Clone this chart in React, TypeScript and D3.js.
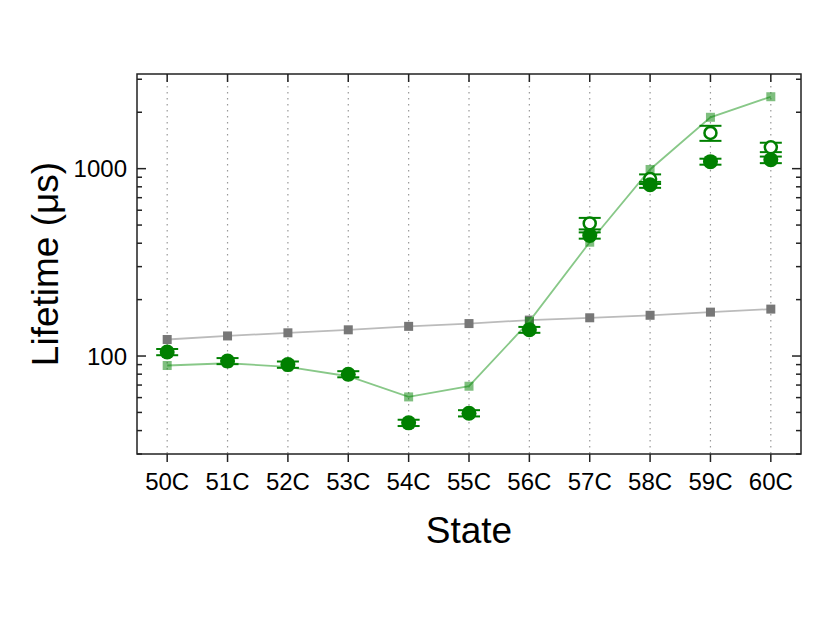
import React, { useEffect, useRef } from "react";
import * as d3 from "d3";

const states = ["50C", "51C", "52C", "53C", "54C", "55C", "56C", "57C", "58C", "59C", "60C"];
const grayValues = [122.5, 128, 133, 138, 144, 149, 155.5, 160, 165, 171.5, 178];
const greenSquareValues = [89, 91.5, 87.5, 78, 60.5, 69, 153, 405, 990, 1880, 2420];
const filledValues = [105, 94, 90, 80, 44, 49.5, 138, 440, 820, 1090, 1115];
const filledErrors = [4, 3.5, 3.5, 3, 1.7, 1.9, 5, 17, 30, 40, 45];
const openValues: (number | null)[] = [null, null, null, null, null, null, null, 510, 880, 1550, 1300];
const openErrors: (number | null)[] = [null, null, null, null, null, null, null, 36, 52, 143, 75];
const yTickLabels = [100, 1000];

function App() {
	const ref = useRef<SVGSVGElement>(null);

	useEffect(() => {
		const width = 830;
		const height = 636;
		const margin = { top: 74, right: 29, bottom: 182, left: 137 };
		const font = "'Liberation Sans', Arial, sans-serif";

		const svg = d3.select(ref.current);
		svg.selectAll("*").remove();

		const x = d3.scalePoint<string>().domain(states).range([margin.left, width - margin.right]).padding(0.5);
		const y = d3.scaleLog().domain([30, 3200]).range([height - margin.bottom, margin.top]);

		const left = margin.left;
		const right = width - margin.right;
		const top = margin.top;
		const bottom = height - margin.bottom;

		// dotted vertical grid
		svg.append("g")
			.selectAll("line")
			.data(states)
			.enter()
			.append("line")
			.attr("x1", (d) => x(d)!)
			.attr("x2", (d) => x(d)!)
			.attr("y1", top)
			.attr("y2", bottom)
			.attr("stroke", "#999")
			.attr("stroke-width", 1.2)
			.attr("stroke-dasharray", "1.5,4.5");

		// y ticks: majors and minors, inward on both sides
		const minorVals: number[] = [];
		for (let dec = 10; dec <= 1000; dec *= 10) {
			for (let k = 1; k <= 9; k++) {
				const v = dec * k;
				if (v >= 30 && v <= 3200) minorVals.push(v);
			}
		}
		const ticks = svg.append("g").attr("stroke", "#222").attr("stroke-width", 1.5);
		minorVals.forEach((v) => {
			const major = yTickLabels.includes(v);
			const len = major ? 9 : 5;
			ticks.append("line").attr("x1", left).attr("x2", left + len).attr("y1", y(v)).attr("y2", y(v));
			ticks.append("line").attr("x1", right).attr("x2", right - len).attr("y1", y(v)).attr("y2", y(v));
		});
		states.forEach((s) => {
			ticks.append("line").attr("x1", x(s)!).attr("x2", x(s)!).attr("y1", bottom).attr("y2", bottom + 8);
			ticks.append("line").attr("x1", x(s)!).attr("x2", x(s)!).attr("y1", top).attr("y2", top + 8);
		});

		svg.append("rect")
			.attr("x", left)
			.attr("y", top)
			.attr("width", right - left)
			.attr("height", bottom - top)
			.attr("fill", "none")
			.attr("stroke", "#222")
			.attr("stroke-width", 1.5);

		// tick labels
		svg.append("g")
			.selectAll("text")
			.data(states)
			.enter()
			.append("text")
			.attr("x", (d) => x(d)!)
			.attr("y", bottom + 36)
			.attr("text-anchor", "middle")
			.attr("font-family", font)
			.attr("font-size", 24)
			.text((d) => d);

		svg.append("g")
			.selectAll("text")
			.data(yTickLabels)
			.enter()
			.append("text")
			.attr("x", left - 10)
			.attr("y", (d) => y(d))
			.attr("dy", "0.36em")
			.attr("text-anchor", "end")
			.attr("font-family", font)
			.attr("font-size", 24)
			.text((d) => d);

		// axis titles
		svg.append("text")
			.attr("x", (left + right) / 2)
			.attr("y", 543)
			.attr("text-anchor", "middle")
			.attr("font-family", font)
			.attr("font-size", 37)
			.text("State");

		svg.append("text")
			.attr("transform", `translate(58,${(top + bottom) / 2}) rotate(-90)`)
			.attr("text-anchor", "middle")
			.attr("font-family", font)
			.attr("font-size", 37)
			.text("Lifetime (μs)");

		const line = d3.line<number>().x((_, i) => x(states[i])!).y((d) => y(d));

		// gray series
		svg.append("path").attr("d", line(grayValues)).attr("fill", "none").attr("stroke", "#bbb").attr("stroke-width", 1.8);
		svg.append("g")
			.selectAll("rect")
			.data(grayValues)
			.enter()
			.append("rect")
			.attr("x", (_, i) => x(states[i])! - 4.5)
			.attr("y", (d) => y(d) - 4.5)
			.attr("width", 9)
			.attr("height", 9)
			.attr("fill", "#777");

		// light green series
		svg.append("path").attr("d", line(greenSquareValues)).attr("fill", "none").attr("stroke", "#88c888").attr("stroke-width", 1.8);
		svg.append("g")
			.selectAll("rect")
			.data(greenSquareValues)
			.enter()
			.append("rect")
			.attr("x", (_, i) => x(states[i])! - 4.5)
			.attr("y", (d) => y(d) - 4.5)
			.attr("width", 9)
			.attr("height", 9)
			.attr("fill", "green")
			.attr("fill-opacity", 0.5);

		const drawErrors = (vals: (number | null)[], errs: (number | null)[]) => {
			const g = svg.append("g").attr("stroke", "green").attr("stroke-width", 2);
			vals.forEach((v, i) => {
				if (v == null || errs[i] == null) return;
				const cx = x(states[i])!;
				const hi = y(v + errs[i]!);
				const lo = y(v - errs[i]!);
				g.append("line").attr("x1", cx).attr("x2", cx).attr("y1", hi).attr("y2", lo);
				g.append("line").attr("x1", cx - 11).attr("x2", cx + 11).attr("y1", hi).attr("y2", hi);
				g.append("line").attr("x1", cx - 11).attr("x2", cx + 11).attr("y1", lo).attr("y2", lo);
			});
		};

		// open circles
		drawErrors(openValues, openErrors);
		svg.append("g")
			.selectAll("circle")
			.data(openValues.map((v, i) => ({ v, i })).filter((d) => d.v != null))
			.enter()
			.append("circle")
			.attr("cx", (d) => x(states[d.i])!)
			.attr("cy", (d) => y(d.v!))
			.attr("r", 6)
			.attr("fill", "white")
			.attr("stroke", "green")
			.attr("stroke-width", 2.5);

		// filled circles
		drawErrors(filledValues, filledErrors);
		svg.append("g")
			.selectAll("circle")
			.data(filledValues)
			.enter()
			.append("circle")
			.attr("cx", (_, i) => x(states[i])!)
			.attr("cy", (d) => y(d))
			.attr("r", 7.5)
			.attr("fill", "green");
	}, []);

	return (
		<svg
			ref={ref}
			width={830}
			height={636}
			style={{ position: "absolute", left: 0, top: 0, background: "white" }}
		></svg>
	);
}

export default App;
